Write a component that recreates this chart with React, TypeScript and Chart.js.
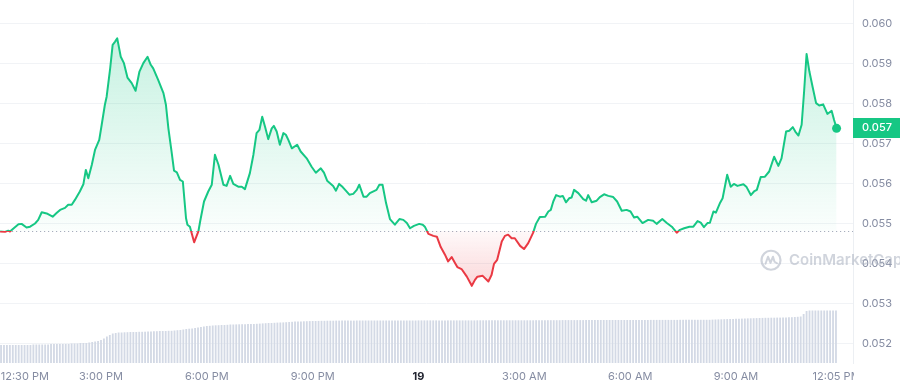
import React, { useEffect, useRef } from 'react';
import { Chart, registerables } from 'chart.js';

Chart.register(...registerables);

// Hours after 12:00 PM on the 18th
const priceHours = [
  0.14, 0.28, 0.37, 0.42, 0.51, 0.66, 0.75, 0.89, 0.99, 1.13,
  1.22, 1.32, 1.46, 1.63, 1.74, 1.84, 1.98, 2.07, 2.17, 2.26,
  2.40, 2.50, 2.57, 2.64, 2.74, 2.83, 2.95, 3.02, 3.11, 3.16,
  3.26, 3.33, 3.40, 3.46, 3.56, 3.65, 3.75, 3.87, 3.98, 4.09,
  4.20, 4.32, 4.41, 4.48, 4.62, 4.77, 4.84, 4.91, 5.00, 5.07,
  5.15, 5.24, 5.32, 5.41, 5.45, 5.52, 5.64, 5.76, 5.81, 5.92,
  6.04, 6.14, 6.23, 6.33, 6.47, 6.56, 6.66, 6.75, 6.89, 6.99,
  7.08, 7.22, 7.32, 7.41, 7.49, 7.57, 7.65, 7.74, 7.84, 7.90,
  7.98, 8.07, 8.17, 8.24, 8.31, 8.41, 8.56, 8.66, 8.83, 8.97,
  9.09, 9.23, 9.32, 9.41, 9.58, 9.66, 9.75, 9.85, 9.94, 10.04,
  10.15, 10.25, 10.32, 10.44, 10.53, 10.62, 10.81, 10.89, 10.98, 11.08,
  11.19, 11.33, 11.46, 11.57, 11.67, 11.76, 11.87, 12.02, 12.12, 12.18,
  12.28, 12.42, 12.52, 12.63, 12.75, 12.84, 12.94, 13.03, 13.10, 13.22,
  13.37, 13.51, 13.60, 13.67, 13.82, 13.98, 14.07, 14.14, 14.23, 14.36,
  14.45, 14.54, 14.64, 14.73, 14.88, 14.99, 15.11, 15.25, 15.33, 15.44,
  15.59, 15.68, 15.75, 15.82, 15.90, 16.01, 16.09, 16.18, 16.27, 16.34,
  16.41, 16.53, 16.67, 16.75, 16.81, 16.91, 17.05, 17.14, 17.26, 17.38,
  17.52, 17.63, 17.76, 17.90, 18.01, 18.11, 18.20, 18.35, 18.51, 18.65,
  18.75, 18.91, 19.03, 19.18, 19.32, 19.41, 19.53, 19.68, 19.79, 19.91,
  20.00, 20.09, 20.19, 20.26, 20.36, 20.43, 20.55, 20.62, 20.75, 20.85,
  20.94, 21.04, 21.21, 21.30, 21.42, 21.51, 21.59, 21.70, 21.82, 21.94,
  22.08, 22.20, 22.29, 22.42, 22.51, 22.61, 22.68, 22.77, 22.86, 22.93,
  23.00, 23.08, 23.17, 23.27, 23.36, 23.47, 23.59, 23.71, 23.78, 23.85,
];

const prices = [
  0.05481, 0.05480, 0.05483, 0.05481, 0.05488, 0.05499, 0.05500, 0.05491, 0.05493, 0.05501,
  0.05510, 0.05529, 0.05526, 0.05518, 0.05527, 0.05535, 0.05540, 0.05548, 0.05548, 0.05560,
  0.05581, 0.05599, 0.05635, 0.05614, 0.05648, 0.05685, 0.05710, 0.05748, 0.05798, 0.05818,
  0.05889, 0.05948, 0.05956, 0.05964, 0.05918, 0.05902, 0.05866, 0.05852, 0.05833, 0.05881,
  0.05902, 0.05918, 0.05898, 0.05889, 0.05860, 0.05827, 0.05798, 0.05739, 0.05681, 0.05633,
  0.05629, 0.05610, 0.05606, 0.05514, 0.05498, 0.05493, 0.05454, 0.05481, 0.05506, 0.05556,
  0.05581, 0.05598, 0.05673, 0.05648, 0.05598, 0.05595, 0.05620, 0.05600, 0.05593, 0.05593,
  0.05587, 0.05627, 0.05673, 0.05727, 0.05735, 0.05768, 0.05743, 0.05712, 0.05739, 0.05745,
  0.05731, 0.05698, 0.05727, 0.05723, 0.05710, 0.05689, 0.05698, 0.05681, 0.05664, 0.05643,
  0.05628, 0.05639, 0.05628, 0.05608, 0.05595, 0.05583, 0.05600, 0.05592, 0.05583, 0.05573,
  0.05575, 0.05585, 0.05598, 0.05568, 0.05568, 0.05577, 0.05585, 0.05598, 0.05598, 0.05552,
  0.05512, 0.05498, 0.05512, 0.05510, 0.05502, 0.05489, 0.05495, 0.05500, 0.05498, 0.05493,
  0.05475, 0.05470, 0.05468, 0.05442, 0.05423, 0.05406, 0.05417, 0.05403, 0.05392, 0.05387,
  0.05368, 0.05345, 0.05360, 0.05368, 0.05370, 0.05356, 0.05372, 0.05400, 0.05410, 0.05456,
  0.05470, 0.05473, 0.05464, 0.05464, 0.05445, 0.05437, 0.05452, 0.05478, 0.05500, 0.05517,
  0.05518, 0.05531, 0.05535, 0.05556, 0.05572, 0.05568, 0.05570, 0.05554, 0.05564, 0.05566,
  0.05585, 0.05577, 0.05562, 0.05558, 0.05572, 0.05554, 0.05558, 0.05567, 0.05574, 0.05570,
  0.05567, 0.05556, 0.05533, 0.05535, 0.05531, 0.05516, 0.05518, 0.05502, 0.05510, 0.05508,
  0.05500, 0.05512, 0.05503, 0.05493, 0.05478, 0.05485, 0.05489, 0.05493, 0.05493, 0.05507,
  0.05503, 0.05492, 0.05502, 0.05503, 0.05531, 0.05528, 0.05553, 0.05564, 0.05623, 0.05593,
  0.05600, 0.05595, 0.05599, 0.05592, 0.05572, 0.05581, 0.05585, 0.05617, 0.05618, 0.05631,
  0.05668, 0.05645, 0.05664, 0.05731, 0.05733, 0.05742, 0.05731, 0.05721, 0.05748, 0.05831,
  0.05925, 0.05881, 0.05843, 0.05802, 0.05796, 0.05799, 0.05775, 0.05783, 0.05760, 0.05739,
];

const openPrice = 0.05482;

// 5-minute volume bars, starting 12:10 PM
const volumeStartHour = 10 / 60;
const volumeStepHours = 5 / 60;
const volume = [
  180, 180, 180, 180, 180, 180, 180, 180, 180, 180, 180,
  185, 185, 185, 185, 185, 185, 190, 190, 190, 190, 190, 190, 190,
  195, 195, 195, 200, 200, 200, 205, 210,
  215, 220, 230, 245,
  265, 280, 295, 300, 305,
  305, 307, 308, 310, 310, 310, 312, 312, 313, 315,
  316, 318, 318, 320, 320, 320, 322, 322, 325, 328,
  330, 335, 340, 343, 345, 350, 355,
  360, 365, 370, 372, 375, 377, 378, 380, 380, 382, 385,
  385, 386, 387, 388, 388, 389, 390, 390, 392, 394, 396, 398, 400,
  400, 402, 404, 405, 406, 408, 410, 412, 414, 415,
  416, 417, 418, 419, 420, 420, 421, 422, 422, 423,
  423, 423, 424, 424, 424, 424, 424, 424, 424, 425, 425, 425, 425, 425, 425, 425, 425, 425, 425, 425,
  425, 425, 425, 425, 425, 425, 425, 425, 425, 425, 426, 426, 426, 426, 426, 426, 426, 426, 426, 426,
  426, 426, 426, 426, 426, 426, 426, 426, 426, 426, 427, 427, 427, 427, 427, 427, 427, 427, 427, 427,
  427, 427, 427, 427, 427, 427, 427, 427, 427, 427, 428, 428, 428, 428, 428, 428, 428, 428, 428,
  429, 429, 429, 429, 429, 429, 429, 429, 429, 429,
  430, 430, 430, 430, 430, 430, 430, 430, 430, 430,
  430, 430, 430, 430, 430, 430, 430, 430, 430, 430,
  431, 431, 431, 431, 431, 431, 431, 431, 431, 431,
  432, 432, 432, 432, 432, 432, 432, 432, 432, 432, 432,
  434, 435, 436, 437, 438, 439, 440, 441, 442, 443, 444, 445,
  446, 447, 448, 449, 450, 451, 452, 452, 453, 453, 454, 454,
  455, 456, 457, 458, 460, 462, 465, 490, 520,
  525, 525, 525, 525, 525, 525, 525, 525, 525, 525,
];

const xMinHour = 0.137;
const xMaxHour = 24.316;
const xTickHours = [0.84, 3, 6, 9, 12, 15, 18, 21, 23.85];
const xTickLabels = ['12:30 PM', '3:00 PM', '6:00 PM', '9:00 PM', '19', '3:00 AM', '6:00 AM', '9:00 AM', '12:05 PM'];
const yTicks = [0.052, 0.053, 0.054, 0.055, 0.056, 0.057, 0.058, 0.059, 0.06];
const yMin = 0.05152;
const yMax = 0.0606;
const volumeAxisMax = 3630;

const GREEN = '#16c784';
const RED = '#ea3943';

function lineGradient(chart: any, kind: 'stroke' | 'fill') {
  const { chartArea, scales } = chart;
  if (!chartArea || !scales || !scales.y) return kind === 'stroke' ? GREEN : 'rgba(22,199,132,0.1)';
  const top = chartArea.top;
  const bottom = chartArea.bottom;
  const h = bottom - top;
  const ctx = chart.ctx;
  const g = ctx.createLinearGradient(0, top, 0, bottom);
  const tb = Math.min(Math.max((scales.y.getPixelForValue(openPrice) - top) / h, 0), 1);
  if (kind === 'stroke') {
    g.addColorStop(0, GREEN);
    g.addColorStop(tb, GREEN);
    g.addColorStop(Math.min(tb + 0.0005, 1), RED);
    g.addColorStop(1, RED);
  } else {
    const tHi = Math.max((scales.y.getPixelForValue(Math.max(...prices)) - top) / h, 0);
    const tLo = Math.min((scales.y.getPixelForValue(Math.min(...prices)) - top) / h, 1);
    g.addColorStop(0, 'rgba(22,199,132,0.26)');
    g.addColorStop(tHi, 'rgba(22,199,132,0.24)');
    g.addColorStop(tb, 'rgba(22,199,132,0.02)');
    g.addColorStop(Math.min(tb + 0.0005, 1), 'rgba(234,57,67,0.03)');
    g.addColorStop(tLo, 'rgba(234,57,67,0.2)');
    g.addColorStop(1, 'rgba(234,57,67,0.2)');
  }
  return g;
}

const baselinePlugin = {
  id: 'baseline',
  beforeDatasetsDraw(chart: any) {
    const { ctx, chartArea, scales } = chart;
    const y = Math.round(scales.y.getPixelForValue(openPrice)) + 0.5;
    ctx.save();
    ctx.strokeStyle = '#a7aebd';
    ctx.lineWidth = 1;
    ctx.setLineDash([1.2, 2.8]);
    ctx.beginPath();
    ctx.moveTo(chartArea.left, y);
    ctx.lineTo(chartArea.right, y);
    ctx.stroke();
    ctx.restore();
  },
};

const overlayPlugin = {
  id: 'overlay',
  afterDraw(chart: any) {
    const { ctx, chartArea, scales, width, height } = chart;
    ctx.save();
    // hide the part of the last time label that runs past the plot area
    ctx.fillStyle = '#ffffff';
    ctx.fillRect(chartArea.right + 1, chartArea.bottom + 2, width - chartArea.right, height - chartArea.bottom);

    // watermark
    const wx = chartArea.right - 82;
    const wy = scales.y.getPixelForValue(0.05409);
    ctx.globalAlpha = 0.55;
    ctx.strokeStyle = '#aab1c0';
    ctx.fillStyle = '#aab1c0';
    ctx.lineWidth = 2.2;
    ctx.beginPath();
    ctx.arc(wx, wy, 9.5, 0, Math.PI * 2);
    ctx.stroke();
    ctx.lineWidth = 2;
    ctx.lineJoin = 'round';
    ctx.lineCap = 'round';
    ctx.beginPath();
    ctx.moveTo(wx - 5.5, wy + 3.5);
    ctx.lineTo(wx - 3, wy - 3.5);
    ctx.lineTo(wx - 0.5, wy + 2.5);
    ctx.lineTo(wx + 2, wy - 3.5);
    ctx.lineTo(wx + 3.5, wy + 1.5);
    ctx.lineTo(wx + 6, wy + 3);
    ctx.stroke();
    ctx.font = '600 15px Inter';
    ctx.textBaseline = 'middle';
    ctx.textAlign = 'left';
    ctx.fillText('CoinMarketCap', wx + 18, wy + 0.5);
    ctx.globalAlpha = 1;

    // last price badge
    const last = prices[prices.length - 1];
    const py = scales.y.getPixelForValue(last);
    ctx.fillStyle = GREEN;
    ctx.fillRect(chartArea.right, Math.round(py - 10), width - chartArea.right, 20);
    ctx.fillStyle = '#ffffff';
    ctx.font = '500 11px Inter';
    ctx.textBaseline = 'middle';
    ctx.textAlign = 'left';
    ctx.fillText(last.toFixed(3), chartArea.right + 9, Math.round(py));
    ctx.restore();
  },
};

export default function App() {
  const ref = useRef<HTMLCanvasElement | null>(null);

  useEffect(() => {
    const canvas = ref.current;
    if (!canvas) return;
    Chart.defaults.font.family = 'Inter';
    const linePoints = priceHours.map((h, i) => ({ x: h, y: prices[i] }));
    const barPoints = volume.map((v, i) => ({ x: volumeStartHour + i * volumeStepHours, y: v }));
    const lastIndex = prices.length - 1;

    const chart = new Chart(canvas, {
      type: 'line',
      data: {
        datasets: [
          {
            type: 'line',
            data: linePoints,
            xAxisID: 'x',
            yAxisID: 'y',
            order: 1,
            borderWidth: 2,
            tension: 0,
            borderJoinStyle: 'round',
            borderColor: (c: any) => lineGradient(c.chart, 'stroke'),
            backgroundColor: (c: any) => lineGradient(c.chart, 'fill'),
            fill: { value: openPrice },
            pointRadius: (c: any) => (c.dataIndex === lastIndex ? 4.5 : 0),
            pointBackgroundColor: GREEN,
            pointBorderColor: GREEN,
            pointBorderWidth: 0,
            pointHoverRadius: 0,
          } as any,
          {
            type: 'bar',
            data: barPoints,
            xAxisID: 'x',
            yAxisID: 'yv',
            order: 2,
            backgroundColor: '#d3d9e5',
            borderWidth: 0,
            barPercentage: 0.62,
            categoryPercentage: 1,
          } as any,
        ],
      },
      options: {
        animation: false,
        responsive: false,
        devicePixelRatio: 1,
        parsing: true,
        layout: { padding: 0, autoPadding: false },
        plugins: { legend: { display: false }, tooltip: { enabled: false } },
        scales: {
          x: {
            type: 'linear',
            position: 'bottom',
            min: xMinHour,
            max: xMaxHour,
            offset: false,
            grid: { display: false, drawTicks: false, offset: false },
            border: { display: false },
            afterBuildTicks: (scale: any) => {
              scale.ticks = xTickHours.map((v) => ({ value: v }));
            },
            afterFit: (scale: any) => {
              scale.height = 25;
              scale.paddingLeft = 0;
              scale.paddingRight = 0;
            },
            ticks: {
              autoSkip: false,
              maxRotation: 0,
              minRotation: 0,
              padding: 7,
              callback: (_v: any, i: number) => xTickLabels[i],
              color: (c: any) => (c.index === 4 ? '#222531' : '#858ca2'),
              font: (c: any) => ({ family: 'Inter', size: 11, weight: c.index === 4 ? '700' : '400' }),
            },
          },
          y: {
            type: 'linear',
            position: 'right',
            min: yMin,
            max: yMax,
            afterBuildTicks: (scale: any) => {
              scale.ticks = yTicks.map((v) => ({ value: v }));
            },
            afterFit: (scale: any) => {
              scale.width = 47;
              scale.paddingTop = 0;
              scale.paddingBottom = 0;
            },
            grid: { color: '#f1f3f6', lineWidth: 1, drawTicks: false },
            border: { display: true, color: '#eceff3', width: 1 },
            ticks: {
              padding: 9,
              color: '#858ca2',
              font: { family: 'Inter', size: 11 },
              callback: (v: any) => Number(v).toFixed(3),
            },
          },
          yv: {
            type: 'linear',
            display: false,
            min: 0,
            max: volumeAxisMax,
          },
        },
      } as any,
      plugins: [baselinePlugin, overlayPlugin],
    });

    return () => chart.destroy();
  }, []);

  return (
    <div style={{ position: 'fixed', left: 0, top: 0, width: 900, height: 388, background: '#fff' }}>
      <canvas ref={ref} width={900} height={388} style={{ display: 'block', width: 900, height: 388 }} />
    </div>
  );
}
